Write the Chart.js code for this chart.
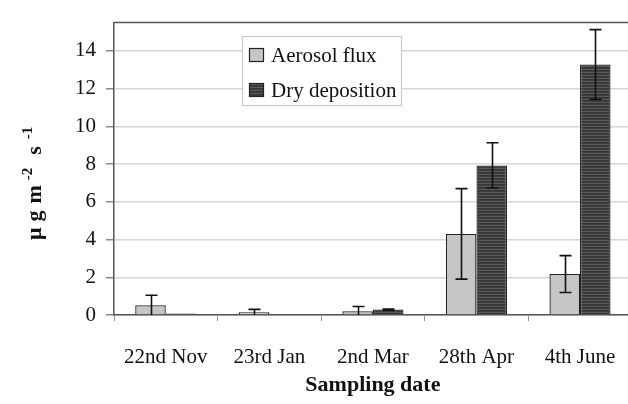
<!DOCTYPE html>
<html>
<head>
<meta charset="utf-8">
<script src="https://cdn.jsdelivr.net/npm/chart.js@4/dist/chart.umd.min.js"></script>
<style>
  html, body { margin: 0; padding: 0; background: #fff; overflow: hidden; }
  #wrap { width: 640px; height: 404px; }
</style>
</head>
<body>
<div id="wrap"><canvas id="c" width="640" height="404"></canvas></div>
<script>
const categories = ['22nd Nov', '23rd Jan', '2nd Mar', '28th Apr', '4th June'];
const aerosolFlux = [0.52, 0.14, 0.20, 4.30, 2.17];
const aerosolErr = [0.53, 0.16, 0.25, 2.40, 0.98];
const dryDeposition = [0.08, 0.00, 0.29, 7.93, 13.28];
const dryErr = [0.00, 0.00, 0.03, 1.20, 1.85];
const yTicks = [0, 2, 4, 6, 8, 10, 12, 14];
const seriesNames = ['Aerosol flux', 'Dry deposition'];

function makePattern(rows) {
  const c = document.createElement('canvas');
  c.width = rows[0].length; c.height = rows.length;
  const g = c.getContext('2d');
  rows.forEach((row, y) => row.forEach((col, x) => { g.fillStyle = col; g.fillRect(x, y, 1, 1); }));
  return g.createPattern(c, 'repeat');
}
const lightFill = makePattern([
  ['#c9c9c9', '#bfbfbf'],
  ['#c3c3c3', '#cbcbcb']
]);
const darkFill = makePattern([
  ['#5a5a5a', '#5a5a5a'],
  ['#363636', '#363636'],
  ['#3c3c3c', '#3c3c3c']
]);

const serif = '"Liberation Serif", "Times New Roman", serif';

const errorBars = {
  id: 'errorBars',
  afterDatasetsDraw(chart) {
    const ctx = chart.ctx, y = chart.scales.y;
    const errs = [aerosolErr, dryErr];
    ctx.save();
    ctx.beginPath();
    ctx.rect(chart.chartArea.left, chart.chartArea.top, chart.chartArea.right - chart.chartArea.left, chart.chartArea.bottom - chart.chartArea.top + 1);
    ctx.clip();
    ctx.strokeStyle = '#111';
    ctx.lineWidth = 1.6;
    chart.data.datasets.forEach((ds, di) => {
      const meta = chart.getDatasetMeta(di);
      meta.data.forEach((bar, i) => {
        const e = errs[di][i];
        if (!e) return;
        const v = ds.data[i];
        const x = Math.round(bar.x) + 0.5;
        const yt = y.getPixelForValue(v + e);
        const yb = y.getPixelForValue(Math.max(v - e, 0));
        ctx.beginPath();
        ctx.moveTo(x, yt); ctx.lineTo(x, yb);
        ctx.moveTo(x - 6, yt); ctx.lineTo(x + 6, yt);
        if (v - e > 0) { ctx.moveTo(x - 6, yb); ctx.lineTo(x + 6, yb); }
        ctx.stroke();
      });
    });
    ctx.restore();
  }
};

const frame = {
  id: 'frame',
  afterDraw(chart) {
    const ctx = chart.ctx, a = chart.chartArea;
    ctx.save();
    // top border of the plot area
    ctx.strokeStyle = '#555';
    ctx.lineWidth = 1.5;
    ctx.beginPath();
    ctx.moveTo(a.left, a.top); ctx.lineTo(chart.width, a.top);
    ctx.stroke();

    // legend
    const lx = 242, ly = 36, lw = 159, lh = 69;
    ctx.fillStyle = '#fff';
    ctx.fillRect(lx, ly, lw, lh);
    ctx.strokeStyle = '#c8c8c8';
    ctx.lineWidth = 1.2;
    ctx.strokeRect(lx + 0.5, ly + 0.5, lw, lh);
    const fills = [lightFill, darkFill];
    const rowsY = [55, 90];
    ctx.font = '21px ' + serif;
    ctx.textBaseline = 'middle';
    ctx.textAlign = 'left';
    seriesNames.forEach((name, i) => {
      ctx.fillStyle = fills[i];
      ctx.fillRect(249, rowsY[i] - 7, 15, 14);
      ctx.strokeStyle = '#222';
      ctx.lineWidth = 1.2;
      ctx.strokeRect(249.5, rowsY[i] - 6.5, 14, 13);
      ctx.fillStyle = '#111';
      ctx.fillText(name, 271, rowsY[i] + 1);
    });

    // y axis title with superscripts (rotated, reading bottom to top)
    ctx.translate(41, 240);
    ctx.rotate(-Math.PI / 2);
    const parts = [
      { t: 'μ', sup: false, gap: 6 },
      { t: 'g', sup: false, gap: 7 },
      { t: 'm', sup: false, gap: 5 },
      { t: '-2', sup: true, gap: 13 },
      { t: 's', sup: false, gap: 7 },
      { t: '-1', sup: true, gap: 0 }
    ];
    const mainFont = 'bold 22px ' + serif, supFont = 'bold 15px ' + serif;
    let x = 0;
    ctx.textBaseline = 'alphabetic';
    ctx.fillStyle = '#111';
    parts.forEach(p => {
      ctx.font = p.sup ? supFont : mainFont;
      ctx.fillText(p.t, x, p.sup ? -9 : 0);
      x += ctx.measureText(p.t).width + p.gap;
    });
    ctx.restore();
  }
};

new Chart(document.getElementById('c'), {
  type: 'bar',
  data: {
    labels: categories,
    datasets: [
      { label: seriesNames[0], data: aerosolFlux, backgroundColor: lightFill, borderColor: '#222', borderWidth: 1.3 },
      { label: seriesNames[1], data: dryDeposition, backgroundColor: darkFill, borderColor: '#222', borderWidth: 1.3 }
    ]
  },
  options: {
    responsive: false,
    animation: false,
    layout: { padding: { top: 12, right: 7, left: 0, bottom: 0 } },
    datasets: { bar: { categoryPercentage: 0.59, barPercentage: 1.0 } },
    plugins: { legend: { display: false }, tooltip: { enabled: false } },
    scales: {
      x: {
        grid: { drawOnChartArea: false, drawTicks: true, tickLength: 6, tickColor: '#9a9a9a', offset: true },
        border: { color: '#555', width: 1.5 },
        ticks: { font: { family: serif, size: 21 }, color: '#111', padding: 24, maxRotation: 0, autoSkip: false },
        title: { display: true, text: 'Sampling date', font: { family: serif, size: 22, weight: 'bold' }, color: '#111', padding: { top: 0, bottom: 5 } },
        afterFit(s) { s.height = 89; }
      },
      y: {
        min: 0,
        max: 15.5,
        grid: { color: '#d6d6d6', lineWidth: 1.5, tickLength: 8, tickColor: '#8a8a8a' },
        border: { color: '#555', width: 1.5 },
        ticks: { font: { family: serif, size: 21 }, color: '#111', padding: 10, stepSize: 2 },
        afterBuildTicks(s) { s.ticks = yTicks.map(v => ({ value: v })); },
        afterFit(s) { s.width = 114; }
      }
    }
  },
  plugins: [errorBars, frame]
});
</script>
</body>
</html>
